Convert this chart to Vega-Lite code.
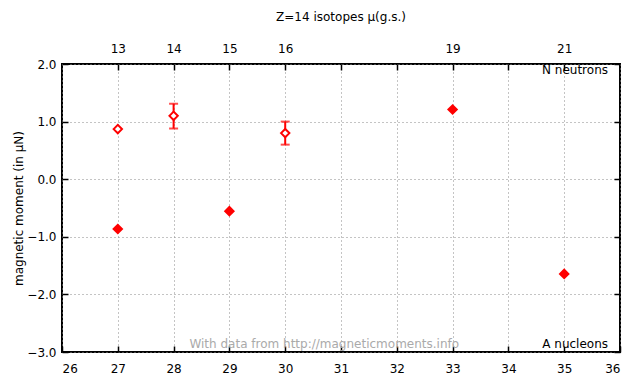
{
  "$schema": "https://vega.github.io/schema/vega-lite/v6.json",
  "autosize": "none",
  "width": 558,
  "height": 288,
  "padding": {"left": 62, "top": 64, "right": 20, "bottom": 32},
  "background": "white",
  "config": {
    "view": {"stroke": "black", "strokeWidth": 2},
    "font": "DejaVu Sans",
    "axis": {
      "labelFont": "DejaVu Sans",
      "labelFontSize": 12,
      "labelColor": "black",
      "domain": false,
      "tickColor": "black",
      "tickSize": -6,
      "tickWidth": 1.5,
      "gridColor": "#888888",
      "gridDash": [1, 3],
      "gridWidth": 1
    }
  },
  "title": {
    "text": "Z=14 isotopes μ(g.s.)",
    "font": "DejaVu Sans",
    "fontSize": 12,
    "fontWeight": "normal",
    "color": "black",
    "offset": 18
  },
  "datasets": {
    "pts": [
      {"A": 27, "mu": 0.87, "kind": "open"},
      {"A": 27, "mu": -0.865, "kind": "filled"},
      {"A": 28, "mu": 1.1, "kind": "open", "lo": 0.88, "hi": 1.31},
      {"A": 29, "mu": -0.555, "kind": "filled"},
      {"A": 30, "mu": 0.8, "kind": "open", "lo": 0.6, "hi": 1.0},
      {"A": 33, "mu": 1.21, "kind": "filled"},
      {"A": 35, "mu": -1.645, "kind": "filled"}
    ],
    "notes": [
      {"A": 36, "mu": 2, "t": "N neutrons", "pos": "top"},
      {"A": 36, "mu": -3, "t": "A nucleons", "pos": "bottom"}
    ]
  },
  "layer": [
    {
      "data": {"name": "pts"},
      "transform": [{"filter": "isValid(datum.lo)"}],
      "mark": {"type": "rule", "color": "red", "strokeWidth": 2},
      "encoding": {
        "x": {
          "field": "A", "type": "quantitative",
          "scale": {"domain": [26, 36], "nice": false},
          "axis": {"orient": "bottom", "values": [26,27,28,29,30,31,32,33,34,35,36], "title": null, "grid": true, "labelPadding": 17}
        },
        "y": {
          "field": "lo", "type": "quantitative",
          "scale": {"domain": [-3, 2], "nice": false},
          "axis": {"orient": "left", "values": [-3,-2,-1,0,1,2], "format": ".1f", "grid": true, "title": "magnetic moment (in μN)", "titleFontWeight": "normal", "titleFontSize": 12, "titleColor": "black", "titleFont": "DejaVu Sans", "labelPadding": 12, "titlePadding": 1}
        },
        "y2": {"field": "hi"}
      }
    },
    {
      "data": {"name": "pts"},
      "transform": [{"filter": "isValid(datum.lo)"}],
      "mark": {"type": "tick", "color": "red", "thickness": 2, "size": 9, "orient": "horizontal"},
      "encoding": {
        "x": {"field": "A", "type": "quantitative", "axis": {"orient": "top", "values": [27,28,29,30,31,32,33,34,35], "labelExpr": "indexof([27,28,29,30,33,35], datum.value) >= 0 ? '' + (datum.value - 14) : ''", "title": null, "grid": false, "labelPadding": 15}},
        "y": {"field": "lo", "type": "quantitative", "axis": {"orient": "right", "values": [-3,-2,-1,0,1,2], "labels": false, "grid": false, "title": null}}
      }
    },
    {
      "data": {"name": "pts"},
      "transform": [{"filter": "isValid(datum.hi)"}],
      "mark": {"type": "tick", "color": "red", "thickness": 2, "size": 9, "orient": "horizontal"},
      "encoding": {
        "x": {"field": "A", "type": "quantitative", "axis": null},
        "y": {"field": "hi", "type": "quantitative", "axis": null}
      }
    },
    {
      "data": {"name": "pts"},
      "mark": {"type": "point", "shape": "diamond", "size": 70, "stroke": "red", "strokeWidth": 2, "opacity": 1},
      "encoding": {
        "x": {"field": "A", "type": "quantitative", "axis": null},
        "y": {"field": "mu", "type": "quantitative", "axis": null},
        "fill": {
          "field": "kind", "type": "nominal",
          "scale": {"domain": ["open", "filled"], "range": ["white", "red"]},
          "legend": null
        }
      }
    },
    {
      "data": {"name": "notes"},
      "transform": [{"filter": "datum.pos === 'top'"}],
      "mark": {"type": "text", "align": "right", "baseline": "top", "fontSize": 12, "color": "black", "dx": -12, "dy": 1},
      "encoding": {
        "x": {"field": "A", "type": "quantitative", "axis": null},
        "y": {"field": "mu", "type": "quantitative", "axis": null},
        "text": {"field": "t"}
      }
    },
    {
      "data": {"name": "notes"},
      "transform": [{"filter": "datum.pos === 'bottom'"}],
      "mark": {"type": "text", "align": "right", "baseline": "bottom", "fontSize": 12, "color": "black", "dx": -12, "dy": -1},
      "encoding": {
        "x": {"field": "A", "type": "quantitative", "axis": null},
        "y": {"field": "mu", "type": "quantitative", "axis": null},
        "text": {"field": "t"}
      }
    },
    {
      "data": {"values": [{"A": 30.7, "mu": -3, "t": "With data from http://magneticmoments.info"}]},
      "mark": {"type": "text", "align": "center", "baseline": "bottom", "fontSize": 12, "color": "#aaaaaa", "dy": -1},
      "encoding": {
        "x": {"field": "A", "type": "quantitative", "axis": null},
        "y": {"field": "mu", "type": "quantitative", "axis": null},
        "text": {"field": "t"}
      }
    }
  ]
}
